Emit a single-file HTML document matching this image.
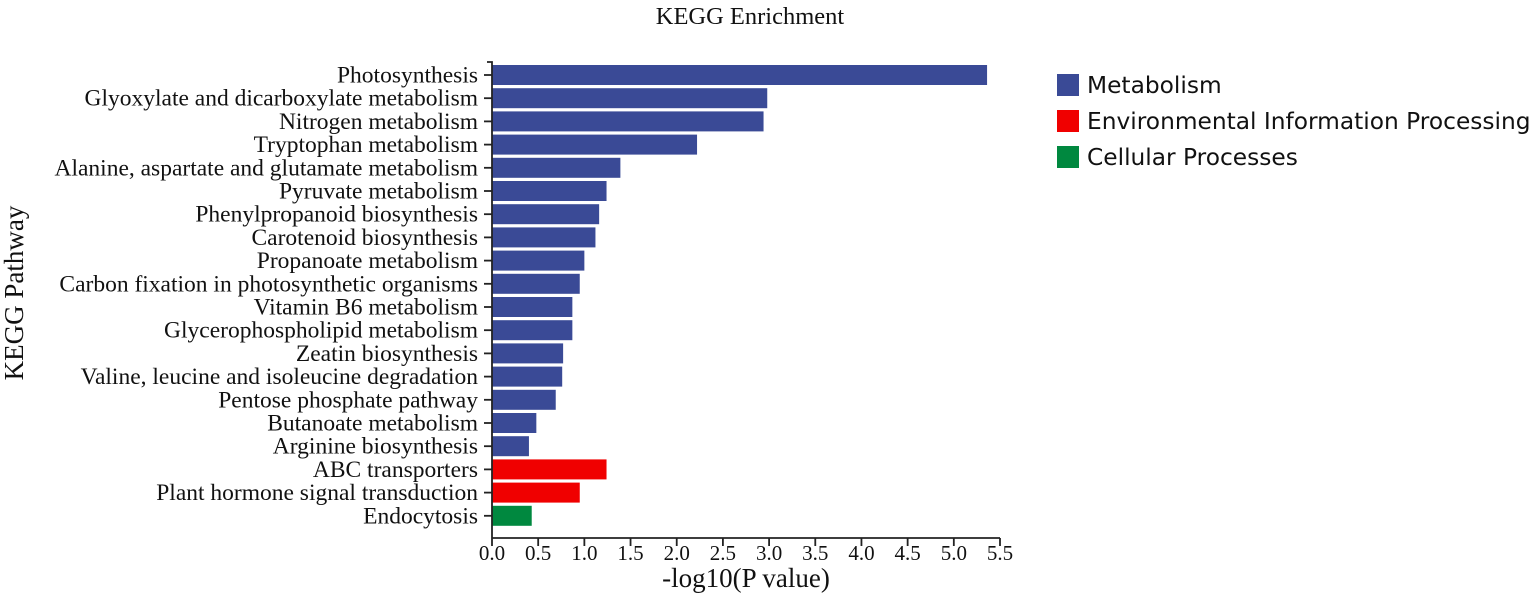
<!DOCTYPE html>
<html><head><meta charset="utf-8"><style>
body{margin:0;background:#fff;width:1535px;height:600px;overflow:hidden}
svg text{font-family:"Liberation Serif",serif;fill:#111}
.leg{font-family:"DejaVu Sans",sans-serif;font-size:23.3px}
</style></head><body>
<svg id="chart" width="1535" height="600" xmlns="http://www.w3.org/2000/svg">
<text x="750" y="24" font-size="24.5" text-anchor="middle">KEGG Enrichment</text>
<text transform="translate(23,293) rotate(-90)" font-size="27" text-anchor="middle">KEGG Pathway</text>
<text x="746" y="587" font-size="27" text-anchor="middle">-log10(P value)</text>
<g id="bars"></g>
<g id="axes"></g>
<g>
<g><rect x="1057" y="74" width="22" height="22" fill="#3a4a96"/><text class="leg" x="1087" y="93">Metabolism</text></g>
<g><rect x="1057" y="110" width="22" height="22" fill="#f00000"/><text class="leg" x="1087" y="129">Environmental Information Processing</text></g>
<g><rect x="1057" y="146" width="22" height="22" fill="#00883f"/><text class="leg" x="1087" y="165">Cellular Processes</text></g>
</g>
</svg>
<script>
const categories=["Photosynthesis","Glyoxylate and dicarboxylate metabolism","Nitrogen metabolism","Tryptophan metabolism","Alanine, aspartate and glutamate metabolism","Pyruvate metabolism","Phenylpropanoid biosynthesis","Carotenoid biosynthesis","Propanoate metabolism","Carbon fixation in photosynthetic organisms","Vitamin B6 metabolism","Glycerophospholipid metabolism","Zeatin biosynthesis","Valine, leucine and isoleucine degradation","Pentose phosphate pathway","Butanoate metabolism","Arginine biosynthesis","ABC transporters","Plant hormone signal transduction","Endocytosis"];
const values=[5.36,2.98,2.94,2.22,1.39,1.24,1.16,1.12,1.00,0.95,0.87,0.87,0.77,0.76,0.69,0.48,0.40,1.24,0.95,0.43];
const groups=["M","M","M","M","M","M","M","M","M","M","M","M","M","M","M","M","M","E","E","C"];
const xTicks=["0.0","0.5","1.0","1.5","2.0","2.5","3.0","3.5","4.0","4.5","5.0","5.5"];
const colors={M:"#3a4a96",E:"#f00000",C:"#00883f"};
const NS="http://www.w3.org/2000/svg";
const x0=492,x1=1000,xmax=5.5,yTop=75,step=23.2,bh=20,axisY=538;
const xs=v=>x0+v/xmax*(x1-x0);
const ys=i=>yTop+i*step;
const bars=document.getElementById('bars'),axes=document.getElementById('axes');
function mk(t,a){const e=document.createElementNS(NS,t);for(const k in a)e.setAttribute(k,a[k]);return e;}
categories.forEach((c,i)=>{
 const r=mk('rect',{x:x0,y:ys(i)-bh/2,width:xs(values[i])-x0,height:bh,fill:colors[groups[i]]});
 
 
 bars.appendChild(r);
 const t=mk('line',{x1:x0-8,x2:x0,y1:ys(i),y2:ys(i),stroke:'#222','stroke-width':1.8});
 
 
 axes.appendChild(t);
 const l=mk('text',{x:x0-14,y:ys(i)+7.5,'font-size':23.5,'text-anchor':'end'});
 l.textContent=c;
 
 
 axes.appendChild(l);
});
const ya=mk('path',{d:`M${x0-5} 62H${x0}V${axisY}`,stroke:'#222','stroke-width':1.8,fill:'none'});


axes.appendChild(ya);
const xa=mk('line',{x1:x0,x2:x1,y1:axisY,y2:axisY,stroke:'#222','stroke-width':1.8});


axes.appendChild(xa);
xTicks.forEach(s=>{
 const x=xs(parseFloat(s));
 const t=mk('line',{x1:x,x2:x,y1:axisY,y2:axisY+8,stroke:'#222','stroke-width':1.8});
 
 
 axes.appendChild(t);
 const l=mk('text',{x:x,y:axisY+22,'font-size':21,'text-anchor':'middle'});
 l.textContent=s;
 
 
 axes.appendChild(l);
});
</script>
</body></html>
